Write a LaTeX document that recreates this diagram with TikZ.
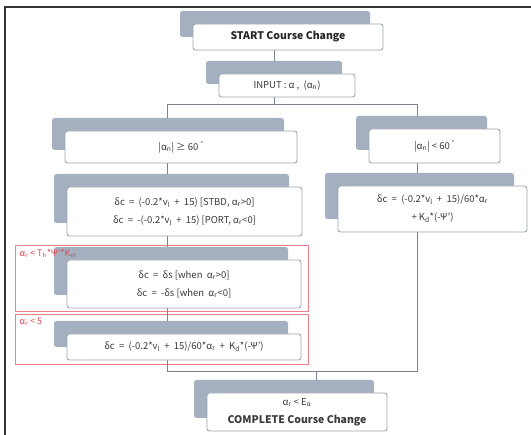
\documentclass[tikz,border=0pt]{standalone}
\usepackage{fontspec}
\setmainfont{Noto Sans CJK KR}
\usetikzlibrary{shadows, backgrounds, calc}
\definecolor{cardgray}{RGB}{164,176,191}
\definecolor{edgegray}{RGB}{158,165,174}
\definecolor{linkgray}{RGB}{125,131,140}
\definecolor{warnred}{RGB}{236,128,134}
\definecolor{warntext}{RGB}{222,72,84}
\definecolor{textgray}{RGB}{58,58,58}
\newcommand{\lo}[1]{\textsubscript{#1}}

\begin{document}
\begin{tikzpicture}[x=1pt, y=-1pt,
  card/.style={draw=edgegray, fill=white, rounded corners=2.5pt, line width=0.9pt,
    text=textgray, font=\fontsize{9.5}{18}\selectfont, align=center, inner sep=0pt,
    drop shadow={shadow xshift=-13pt, shadow yshift=13pt, fill=cardgray, opacity=1}},
  title/.style={font=\bfseries\fontsize{10.5}{18}\selectfont, text=black!85},
  link/.style={draw=linkgray, line width=0.9pt},
  zone/.style={draw=warnred, line width=0.9pt, inner sep=0pt},
  cond/.style={text=warntext, font=\fontsize{9}{10}\selectfont, anchor=west, inner sep=0pt}]
  \useasboundingbox (0,0) rectangle (531,435);
  \draw[line width=1.2pt, black!80] (5,435) -- (5,7) -- (531,7);

  \coordinate (trunk) at (274,0);
  \coordinate (lx) at (167,0);
  \coordinate (rx) at (417,0);
  \coordinate (ex) at (316,0);
  \coordinate (fork) at (0,104);
  \coordinate (join) at (0,371);

  \node[card, title, minimum width=190pt, minimum height=26pt] (start) at (288,37) {START Course Change};
  \node[card, minimum width=136pt, minimum height=23pt] (input) at (287,85.5) {INPUT : α ,~~(α\lo{n})};
  \node[card, minimum width=232pt, minimum height=32pt] (big) at (181,147) {|α\lo{n}| ≥ 60 \textsuperscript{°}};
  \node[card, minimum width=235pt, minimum height=49pt] (ldc) at (184.5,211.5)
    {δc~~=~~(-0.2*v\lo{l}~~+~~15) [STBD, α\lo{r}>0]\\ δc~~=~~-(-0.2*v\lo{l}~~+~~15) [PORT, α\lo{r}<0]};
  \node[card, minimum width=131pt, minimum height=34pt] (small) at (434.5,146) {|α\lo{n}| < 60 \textsuperscript{°}};
  \node[card, minimum width=189pt, minimum height=46pt] (rdc) at (432.5,209)
    {δc~~=~~(-0.2*v\lo{l}~~+~~15)/60*α\lo{r}\\ + K\lo{d}*(-Ψ')};
  \node[card, minimum width=234pt, minimum height=48pt] (slow) at (184,284)
    {δc~~=~~δs [when~~α\lo{r}>0]\\ δc~~=~~-δs [when~~α\lo{r}<0]};
  \node[card, minimum width=234pt, minimum height=26pt] (fine) at (184,347)
    {δc~~=~~(-0.2*v\lo{l}~~+~~15)/60*α\lo{r}~~+~~K\lo{d}*(-Ψ')};
  \node[card, minimum width=180pt, minimum height=38pt] (done) at (297,412)
    {α\lo{r} < E\lo{α}\\ \textbf{\fontsize{10.5}{18}\selectfont COMPLETE Course Change}};

  \begin{scope}[on background layer]
    \node[zone, minimum width=293pt, minimum height=66pt] (gate1) at (161.5,278) {};
    \node[zone, minimum width=293pt, minimum height=50pt] (gate2) at (161.5,339) {};
    \draw[link] (start.south -| trunk) -- (input.north -| trunk);
    \draw[link] (input.south -| trunk) -- (trunk |- fork);
    \draw[link] (big.north -| lx) -- (lx |- fork) -- (rx |- fork) -- (small.north -| rx);
    \draw[link] (big.south -| lx) -- (ldc.north -| lx);
    \draw[link] (ldc.south -| lx) -- (slow.north -| lx);
    \draw[link] (slow.south -| lx) -- (fine.north -| lx);
    \draw[link] (small.south -| rx) -- (rdc.north -| rx);
    \draw[link] (fine.south -| lx) -- (lx |- join) -- (rx |- join) -- (rdc.south -| rx);
    \draw[link] (ex |- join) -- (done.north -| ex);
  \end{scope}

  \node[cond] (cond1) at ($(gate1.north west)+(5,9)$) {α\lo{r} < T\lo{h}*Ψ'*K\lo{m}};
  \node[cond] (cond2) at ($(gate2.north west)+(5,8)$) {α\lo{r} < 5};
\end{tikzpicture}
\end{document}
